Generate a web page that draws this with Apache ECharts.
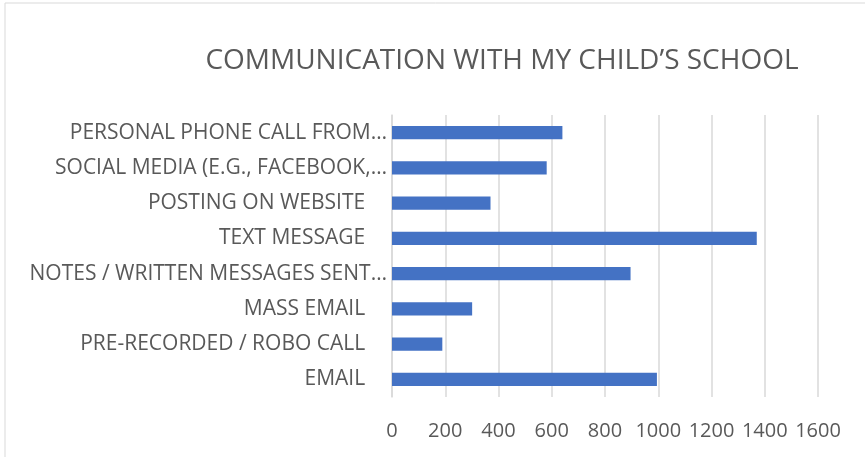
<!DOCTYPE html>
<html>
<head>
<meta charset="utf-8">
<script src="https://cdn.jsdelivr.net/npm/echarts@6/dist/echarts.min.js"></script>
<style>
  html, body { margin: 0; padding: 0; background: #fff; }
  #main { width: 865px; height: 457px; }
</style>
</head>
<body>
<div id="main"></div>
<script>
// categories from bottom to top, as in the picture
var categories = [
  'EMAIL',
  'PRE-RECORDED / ROBO CALL',
  'MASS EMAIL',
  'NOTES / WRITTEN MESSAGES SENT…',
  'TEXT MESSAGE',
  'POSTING ON WEBSITE',
  'SOCIAL MEDIA (E.G., FACEBOOK,…',
  'PERSONAL PHONE CALL FROM…'
];
var values = [995, 189, 301, 896, 1370, 370, 581, 640];
var xTicks = [0, 200, 400, 600, 800, 1000, 1200, 1400, 1600];

var chart = echarts.init(document.getElementById('main'));

var option = {
  backgroundColor: '#ffffff',
  textStyle: { fontFamily: 'Open Sans' },
  title: {
    text: 'COMMUNICATION WITH MY CHILD\u2019S SCHOOL',
    left: 497,
    textAlign: 'center',
    top: 42,
    textStyle: { fontSize: 28, fontWeight: 'normal', color: '#595959', fontFamily: 'Open Sans' }
  },
  graphic: [{
    type: 'rect',
    shape: { x: 5, y: 3, width: 880, height: 470 },
    style: { fill: 'none', stroke: '#d9d9d9', lineWidth: 1 },
    silent: true
  }],
  grid: { left: 392, right: 47, top: 115, bottom: 60, containLabel: false },
  xAxis: {
    type: 'value',
    min: xTicks[0],
    max: xTicks[xTicks.length - 1],
    interval: 200,
    axisLine: { show: false },
    axisTick: { show: false },
    axisLabel: {
      color: '#595959',
      fontSize: 20,
      margin: 24,
      formatter: function (v) { return String(v); }
    },
    splitLine: { lineStyle: { color: '#d9d9d9', width: 1.5 } }
  },
  yAxis: {
    type: 'category',
    data: categories,
    axisLine: { show: true, lineStyle: { color: '#d9d9d9', width: 1.5 } },
    axisTick: { show: false },
    axisLabel: {
      color: '#595959',
      fontSize: 21,
      margin: 5,
      formatter: function (v) {
        return v.charAt(v.length - 1) === '…' ? v : v + '\u00a0\u00a0\u00a0\u00a0';
      }
    }
  },
  series: [{
    type: 'bar',
    data: values,
    barCategoryGap: '63%',
    itemStyle: { color: '#4472C4' },
    silent: true
  }]
};

chart.setOption(option);
</script>
</body>
</html>
